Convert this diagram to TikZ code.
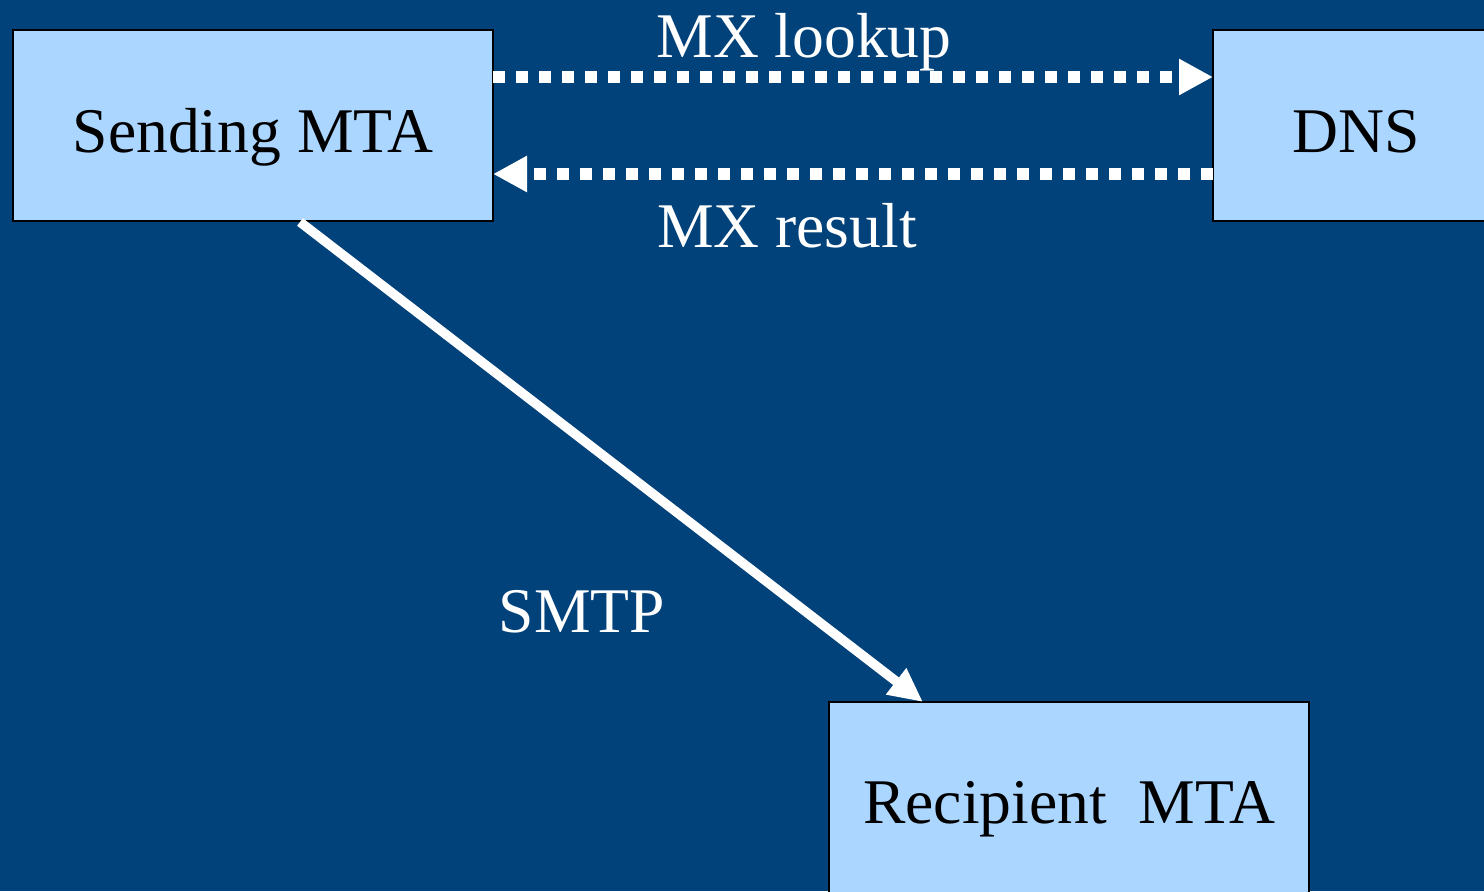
\documentclass[tikz,border=0pt]{standalone}
\usepackage{fontspec}
\setmainfont{Liberation Serif}
\usetikzlibrary{arrows.meta,calc}
\definecolor{slidebg}{RGB}{2,66,122}
\definecolor{boxfill}{RGB}{170,214,255}
\tikzset{
  mta/.style={draw=black, line width=0.75pt, fill=boxfill, inner sep=0pt, outer sep=0pt,
    anchor=base, text height=1.22cm, text depth=0.69cm, align=center,
    font=\fontsize{18.1}{20}\selectfont},
  lbl/.style={text=white, anchor=base, inner sep=0pt, font=\fontsize{18.1}{20}\selectfont},
  query/.style={white, line width=0.12cm, line cap=butt, dash pattern=on 0.12cm off 0.11cm,
    -{Triangle[length=0.34cm, width=0.34cm]}},
  deliver/.style={white, line width=0.095cm, line cap=butt,
    -{Triangle[length=0.34cm, width=0.31cm]}}
}
\begin{document}
\begin{tikzpicture}
  \path[use as bounding box, fill=slidebg] (0,0) rectangle (14.84,8.91);
  \clip (0,0) rectangle (14.84,8.91);

  % hosts
  \node[mta, minimum width=4.80cm] (send) at (2.53,7.39) {Sending MTA};
  \node[mta, minimum width=2.86cm] (dns) at (13.56,7.39) {DNS};
  \node[mta, minimum width=4.80cm, text height=1.21cm, text depth=0.70cm] (recip) at (10.69,0.68) {Recipient\ \ MTA};

  % MX query and answer
  \draw[query] ($(send.north east)+(0,-0.47)$) -- ($(dns.north west)+(0,-0.47)$);
  \draw[query] ($(dns.north west)+(0,-1.44)$) -- ($(send.north east)+(0,-1.44)$);

  % mail transfer
  \draw[deliver] ($(send.south west)+(2.87,-0.01)$) -- ($(recip.north west)+(0.94,0)$);

  % labels
  \node[lbl] (lookup) at (8.04,8.34) {MX lookup};
  \node[lbl] (result) at (7.87,6.44) {MX result};
  \node[lbl] (smtp) at (5.82,2.59) {SMTP};
\end{tikzpicture}
\end{document}
